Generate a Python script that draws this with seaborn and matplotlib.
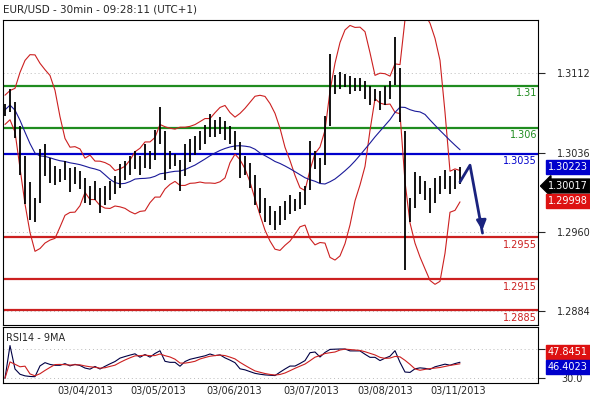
import numpy as np
import pandas as pd
import matplotlib
matplotlib.use("Agg")
import matplotlib.pyplot as plt
import seaborn as sns

sns.set_style("white")
plt.rcParams['font.family'] = ['DejaVu Sans']

closes = [1.3077,1.3086,1.3067,1.3038,1.3010,1.2990,1.2981,1.3014,1.3029,1.3019,1.3014,1.3014,1.3019,1.3010,1.3014,1.3010,1.3000,1.2995,1.3000,1.2990,1.2995,1.3000,1.3005,1.3014,1.3019,1.3024,1.3029,1.3024,1.3033,1.3029,1.3043,1.3062,1.3033,1.3029,1.3029,1.3014,1.3029,1.3038,1.3043,1.3048,1.3053,1.3062,1.3059,1.3062,1.3057,1.3053,1.3048,1.3029,1.3024,1.3014,1.3000,1.2990,1.2981,1.2976,1.2971,1.2976,1.2981,1.2986,1.2986,1.2990,1.2995,1.3024,1.3029,1.3019,1.3048,1.3096,1.3101,1.3105,1.3105,1.3101,1.3101,1.3101,1.3096,1.3091,1.3091,1.3086,1.3091,1.3096,1.3124,1.3091,1.2990,1.2981,1.3000,1.3005,1.3000,1.2990,1.3000,1.3005,1.3010,1.3005,1.3010,1.3014]
levels = [1.31, 1.306, 1.3035, 1.2955, 1.2915, 1.2885]
level_labels = ["1.31", "1.306", "1.3035", "1.2955", "1.2915", "1.2885"]
level_colors = ["#1f8c1f", "#1f8c1f", "#0000cc", "#cc2020", "#cc2020", "#cc2020"]
price_ticks = [1.3112, 1.3036, 1.2960, 1.2884]
date_labels = ["03/04/2013", "03/05/2013", "03/06/2013", "03/07/2013", "03/08/2013", "03/11/2013"]
date_pos = [10.4, 25, 40.2, 55.6, 70.4, 85]
arrow_pts = ([91, 93.0, 95.5], [1.3008, 1.3024, 1.2959])
box_values = [("1.30223", "#0000cc", 167, "square"), ("1.30017", "black", 186, "larrow"), ("1.29998", "#dd1111", 201, "square")]
rsi_box = [("47.8451", "#dd1111", 352), ("46.4023", "#0000cc", 367)]

s = pd.Series(closes)
n = len(s)
idx = np.arange(n)
df = pd.DataFrame({"i": idx, "c": s})
df["mid"] = s.rolling(10, min_periods=1).mean()
sd = s.rolling(10, min_periods=2).std().bfill()
df["up"] = df["mid"] + 2.2 * sd
df["lo"] = df["mid"] - 2.2 * sd
df["ma"] = s.rolling(20, min_periods=1).mean()
d = s.diff().fillna(0)
g = d.clip(lower=0).ewm(alpha=1/6).mean()
l = (-d.clip(upper=0)).ewm(alpha=1/6).mean()
df["rsi"] = 100 - 100 / (1 + g / (l + 1e-9))
df["rsi"] = 52 + (df["rsi"] - 50) * 0.45
df["rsima"] = df["rsi"].rolling(4, min_periods=1).mean()

fig = plt.figure(figsize=(5.9, 4.0), dpi=100)
ax = fig.add_axes([3/590, 1-325/400, 535/590, 305/400])
ax2 = fig.add_axes([3/590, 1-383/400, 535/590, 56/400])
xl = (-0.4, 106.6)

for t in price_ticks:
    ax.axhline(t, color="#bbbbbb", ls=(0, (1, 3)), lw=0.7, zorder=0)
for lv, lb, col in zip(levels, level_labels, level_colors):
    ax.axhline(lv, color=col, lw=1.6, zorder=1)
    ax.text(106.4, lv - 0.00025, lb, color=col, fontsize=7, ha="right", va="top")

sns.lineplot(data=df, x="i", y="up", ax=ax, color="#cc2020", lw=0.8)
sns.lineplot(data=df, x="i", y="lo", ax=ax, color="#cc2020", lw=0.8)
sns.lineplot(data=df, x="i", y="ma", ax=ax, color="#1a1a99", lw=0.8)
rng = d.abs().values * 0.6 + 0.0006
ax.vlines(idx, s - rng, s + rng, color="black", lw=1.3, zorder=3)
ax.plot(arrow_pts[0], arrow_pts[1], color="#1a237e", lw=2, zorder=4)
ax.annotate("", xy=(arrow_pts[0][2], arrow_pts[1][2]), xytext=(95.2, 1.2975),
            arrowprops=dict(arrowstyle="-|>", color="#1a237e", lw=2, mutation_scale=14))

ax.set_xlim(*xl)
ax.set_ylim(1.2871, 1.3163)
ax.yaxis.tick_right()
ax.set_yticks(price_ticks)
ax.set_yticklabels([f"{t:.4f}" for t in price_ticks], fontsize=7)
ax.tick_params(axis="y", length=5, direction="out", right=True, pad=9)
ax.set_xticks([])
ax.set_xlabel(""); ax.set_ylabel("")
for sp in ax.spines.values():
    sp.set_color("black"); sp.set_linewidth(0.8)

for t in [30, 70]:
    ax2.axhline(t, color="#bbbbbb", ls=(0, (1, 3)), lw=0.7)
sns.lineplot(data=df, x="i", y="rsi", ax=ax2, color="#000044", lw=0.8)
sns.lineplot(data=df, x="i", y="rsima", ax=ax2, color="#cc2020", lw=0.8)
ax2.set_xlim(*xl)
ax2.set_ylim(23, 100)
ax2.yaxis.tick_right()
ax2.set_yticks([30, 70])
ax2.set_yticklabels(["30.0", "70.0"], fontsize=7)
ax2.tick_params(axis="y", length=5, direction="out", pad=12)
ax2.set_xticks(date_pos)
ax2.set_xticklabels(date_labels, fontsize=7, ha="left")
ax2.tick_params(axis="x", length=4, direction="in", pad=2)
ax2.set_xlabel(""); ax2.set_ylabel("")
ax2.text(0.005, 0.9, "RSI14 - 9MA", transform=ax2.transAxes, fontsize=7, va="top")
for sp in ax2.spines.values():
    sp.set_color("black"); sp.set_linewidth(0.8)

for lab, col, py, bs in box_values:
    fig.text(548/590, 1 - py/400, lab, fontsize=7, color="white", va="center", zorder=6,
             bbox=dict(boxstyle=f"{bs},pad=0.2", fc=col, ec=col))
for lab, col, py in rsi_box:
    fig.text(548/590, 1 - py/400, lab, fontsize=7, color="white", va="center", zorder=6,
             bbox=dict(boxstyle="square,pad=0.2", fc=col, ec=col))

fig.text(3/590, 1 - 10/400, "EUR/USD - 30min - 09:28:11 (UTC+1)", fontsize=7.5, va="center")
fig.savefig("out.png", dpi=100, facecolor="white")
